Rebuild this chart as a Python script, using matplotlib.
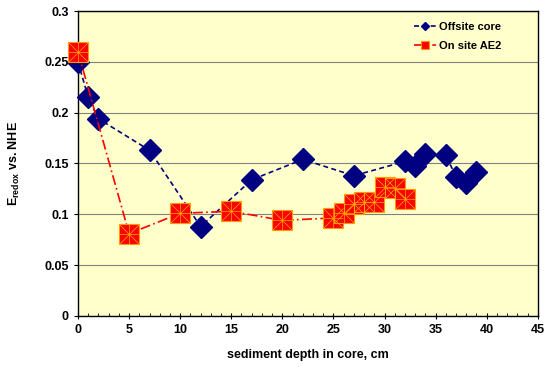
import matplotlib
matplotlib.use("Agg")
import matplotlib.pyplot as plt
from matplotlib.ticker import MultipleLocator

plt.rcParams['font.family'] = ['Liberation Sans', 'DejaVu Sans']
plt.rcParams['font.weight'] = 'bold'

off_depth = [0, 1, 2, 7, 12, 17, 22, 27, 32, 33, 34, 36, 37, 38, 39]
off_e = [0.250, 0.215, 0.194, 0.163, 0.088, 0.134, 0.154, 0.138, 0.152, 0.148, 0.159, 0.158, 0.137, 0.131, 0.142]

ae2_depth = [0, 5, 10, 15, 20, 25, 26, 27, 28, 29, 30, 31, 32]
ae2_e = [0.260, 0.081, 0.101, 0.103, 0.094, 0.0965, 0.101, 0.110, 0.112, 0.112, 0.127, 0.126, 0.115]

fig = plt.figure(figsize=(5.5, 3.67), dpi=100)
ax = fig.add_axes([0.1418, 0.139, 0.836, 0.831])
ax.set_facecolor('#FFFFCC')

ax.plot(off_depth, off_e, linestyle=(0, (3, 2)), color='#000080', lw=1.2,
        marker='D', markersize=11, markerfacecolor='#000080', markeredgecolor='#000080',
        label='Offsite core', zorder=3, clip_on=False)
ax.plot(ae2_depth, ae2_e, linestyle=(0, (6, 2, 1, 2)), color='#FF0000', lw=1.2,
        marker='s', markersize=14, markerfacecolor='#FF0000', markeredgecolor='#FF9900',
        markeredgewidth=0.8, label='On site AE2', zorder=4, clip_on=False)
ax.plot(ae2_depth, ae2_e, linestyle='none', marker='x', markersize=14,
        markeredgecolor='#FFAA00', markeredgewidth=0.5, zorder=5, clip_on=False)
ax.plot(ae2_depth, ae2_e, linestyle='none', marker='+', markersize=14,
        markeredgecolor='#FFAA00', markeredgewidth=0.5, zorder=5, clip_on=False)

ax.set_xlim(0, 45)
ax.set_ylim(0, 0.3)
ax.xaxis.set_major_locator(MultipleLocator(5))
ax.xaxis.set_minor_locator(MultipleLocator(1))
ax.set_yticks([0, 0.05, 0.1, 0.15, 0.2, 0.25, 0.3])
ax.set_yticklabels(['0', '0.05', '0.1', '0.15', '0.2', '0.25', '0.3'])
ax.grid(axis='y', color='#808080', lw=0.8)
ax.set_axisbelow(True)

ax.tick_params(axis='both', labelsize=9, direction='out', length=3, width=0.8)
ax.tick_params(axis='x', which='major', direction='inout', length=5)
ax.tick_params(axis='x', which='minor', direction='in', length=2.5, width=0.6)
for lbl in ax.get_xticklabels() + ax.get_yticklabels():
    lbl.set_fontweight('bold')

for s in ax.spines.values():
    s.set_color('black')
    s.set_linewidth(1.0)

ax.set_xlabel('sediment depth in core, cm', fontsize=9, fontweight='bold', labelpad=9)
ax.set_ylabel(r'E$_{\mathregular{redox}}$ vs. NHE', fontsize=9, fontweight='bold', labelpad=16)

leg = ax.legend(loc='upper right', bbox_to_anchor=(0.946, 1.0), frameon=False, fontsize=8,
                markerscale=0.4, handlelength=2.0, borderaxespad=0.6, labelspacing=0.8,
                handletextpad=0.3)
for t in leg.get_texts():
    t.set_fontweight('bold')

fig.savefig('out.png', dpi=100)
